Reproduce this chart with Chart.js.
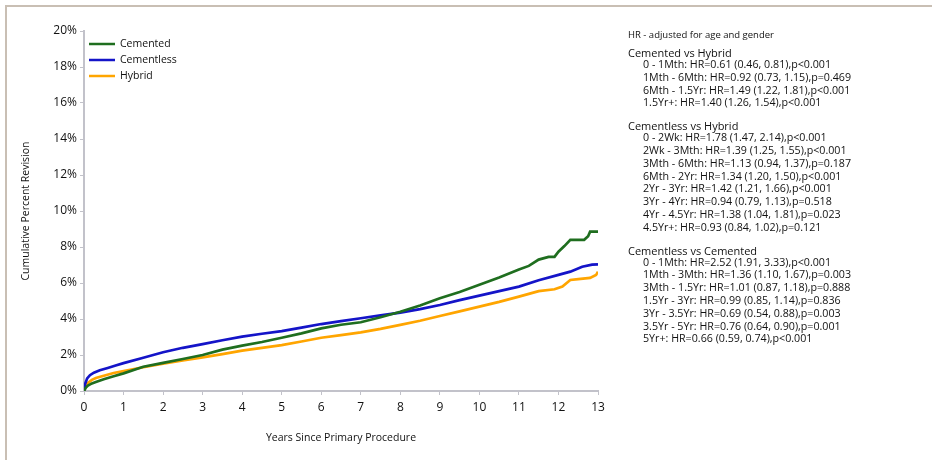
<!DOCTYPE html>
<html>
<head>
<meta charset="utf-8">
<script src="https://cdn.jsdelivr.net/npm/chart.js@4.4.1/dist/chart.umd.min.js"></script>
<style>
  html, body { margin: 0; padding: 0; background: #fff; }
  #wrap { position: relative; width: 932px; height: 460px; overflow: hidden; }
  #frame { position: absolute; left: 5px; top: 5px; right: -10px; bottom: -10px;
           border-top: 2px solid #c9bfb4; border-left: 2px solid #c9bfb4; }
  #chart { position: absolute; left: 0; top: 0; }
  #notes { position: absolute; left: 628px; top: 28px; font-family: "Open Sans", sans-serif;
           color: #111; }
  #notes .cap { font-size: 9.5px; line-height: 14px; }
  #notes .grp { font-size: 11px; line-height: 11px; margin-top: 11px; }
  #notes .grp.first { margin-top: 5px; }
  #notes .row { font-size: 10.7px; line-height: 12.8px; padding-left: 15px; white-space: nowrap; }
</style>
</head>
<body>
<div id="wrap">
  <div id="frame"></div>
  <canvas id="chart" width="932" height="460"></canvas>
  <div id="notes"></div>
</div>
<script>
// ============================
// DATA
// ============================
const seriesNames = ["Cemented", "Cementless", "Hybrid"];
const seriesColors = ["#1f6e1f", "#1414c8", "#ffa500"];

const cementedYears = [0, 0.05, 0.1, 0.2, 0.3, 0.5, 0.75, 1, 1.5, 2, 2.5, 3, 3.5, 4, 4.5, 5, 5.5, 6, 6.5, 7,
  7.5, 8, 8.5, 9, 9.5, 10, 10.5, 11, 11.25, 11.5, 11.75, 11.9, 12, 12.15, 12.3, 12.65, 12.75, 12.8, 13];
const cementedValues = [0, 0.2, 0.3, 0.42, 0.5, 0.65, 0.82, 0.98, 1.35, 1.56, 1.78, 2.0, 2.3, 2.52, 2.72, 2.96, 3.2, 3.48, 3.68, 3.82,
  4.1, 4.4, 4.75, 5.15, 5.5, 5.9, 6.3, 6.75, 6.95, 7.3, 7.45, 7.45, 7.74, 8.05, 8.4, 8.4, 8.6, 8.85, 8.85];

const cementlessYears = [0, 0.03, 0.08, 0.15, 0.25, 0.4, 0.6, 0.8, 1, 1.5, 2, 2.5, 3, 3.5, 4, 4.5, 5, 5.5, 6, 6.5,
  7, 7.5, 8, 8.5, 9, 9.5, 10, 10.5, 11, 11.5, 12, 12.3, 12.6, 12.85, 13];
const cementlessValues = [0, 0.4, 0.7, 0.88, 1.02, 1.15, 1.28, 1.42, 1.55, 1.85, 2.15, 2.4, 2.6, 2.82, 3.02, 3.18, 3.33, 3.52, 3.72, 3.88,
  4.04, 4.2, 4.35, 4.55, 4.78, 5.05, 5.3, 5.55, 5.8, 6.15, 6.45, 6.63, 6.9, 7.02, 7.04];

const hybridYears = [0, 0.05, 0.1, 0.2, 0.3, 0.5, 0.75, 1, 1.5, 2, 2.5, 3, 3.5, 4, 4.5, 5, 5.5, 6, 6.5, 7,
  7.5, 8, 8.5, 9, 9.5, 10, 10.5, 11, 11.5, 11.9, 12.1, 12.3, 12.5, 12.8, 12.95, 13];
const hybridValues = [0, 0.3, 0.45, 0.62, 0.72, 0.85, 1.0, 1.1, 1.32, 1.52, 1.7, 1.87, 2.05, 2.24, 2.4, 2.55, 2.75, 2.96, 3.1, 3.26,
  3.45, 3.67, 3.9, 4.17, 4.42, 4.69, 4.95, 5.24, 5.55, 5.65, 5.8, 6.17, 6.22, 6.28, 6.44, 6.63];

const xTicks = [0, 1, 2, 3, 4, 5, 6, 7, 8, 9, 10, 11, 12, 13];
const yTicks = [0, 2, 4, 6, 8, 10, 12, 14, 16, 18, 20];

const noteCaption = "HR - adjusted for age and gender";
const noteGroups = [
  { title: "Cemented vs Hybrid", rows: [
    "0 - 1Mth: HR=0.61 (0.46, 0.81),p<0.001",
    "1Mth - 6Mth: HR=0.92 (0.73, 1.15),p=0.469",
    "6Mth - 1.5Yr: HR=1.49 (1.22, 1.81),p<0.001",
    "1.5Yr+: HR=1.40 (1.26, 1.54),p<0.001"
  ]},
  { title: "Cementless vs Hybrid", rows: [
    "0 - 2Wk: HR=1.78 (1.47, 2.14),p<0.001",
    "2Wk - 3Mth: HR=1.39 (1.25, 1.55),p<0.001",
    "3Mth - 6Mth: HR=1.13 (0.94, 1.37),p=0.187",
    "6Mth - 2Yr: HR=1.34 (1.20, 1.50),p<0.001",
    "2Yr - 3Yr: HR=1.42 (1.21, 1.66),p<0.001",
    "3Yr - 4Yr: HR=0.94 (0.79, 1.13),p=0.518",
    "4Yr - 4.5Yr: HR=1.38 (1.04, 1.81),p=0.023",
    "4.5Yr+: HR=0.93 (0.84, 1.02),p=0.121"
  ]},
  { title: "Cementless vs Cemented", rows: [
    "0 - 1Mth: HR=2.52 (1.91, 3.33),p<0.001",
    "1Mth - 3Mth: HR=1.36 (1.10, 1.67),p=0.003",
    "3Mth - 1.5Yr: HR=1.01 (0.87, 1.18),p=0.888",
    "1.5Yr - 3Yr: HR=0.99 (0.85, 1.14),p=0.836",
    "3Yr - 3.5Yr: HR=0.69 (0.54, 0.88),p=0.003",
    "3.5Yr - 5Yr: HR=0.76 (0.64, 0.90),p=0.001",
    "5Yr+: HR=0.66 (0.59, 0.74),p<0.001"
  ]}
];

// ============================
// NOTES PANEL
// ============================
const notes = document.getElementById("notes");
const cap = document.createElement("div");
cap.className = "cap";
cap.textContent = noteCaption;
notes.appendChild(cap);
noteGroups.forEach((g, gi) => {
  const t = document.createElement("div");
  t.className = gi === 0 ? "grp first" : "grp";
  t.textContent = g.title;
  notes.appendChild(t);
  g.rows.forEach(r => {
    const d = document.createElement("div");
    d.className = "row";
    d.textContent = r;
    notes.appendChild(d);
  });
});

// ============================
// CHART
// ============================
const FONT = "Open Sans";
const AXIS = "#c2c2ca";

const toPoints = (xs, ys) => xs.map((x, i) => ({ x: x, y: ys[i] }));
const allSeries = [
  toPoints(cementedYears, cementedValues),
  toPoints(cementlessYears, cementlessValues),
  toPoints(hybridYears, hybridValues)
];

// legend drawn inside the plot, top left
const insideLegend = {
  id: "insideLegend",
  afterDraw(chart) {
    const ctx = chart.ctx;
    const left = chart.chartArea.left + 5;
    const top = chart.chartArea.top + 13;
    ctx.save();
    ctx.font = "10.5px " + FONT;
    ctx.textBaseline = "middle";
    chart.data.datasets.forEach((ds, i) => {
      const y = top + i * 16;
      ctx.strokeStyle = ds.borderColor;
      ctx.lineWidth = 2.5;
      ctx.beginPath();
      ctx.moveTo(left, y);
      ctx.lineTo(left + 26, y);
      ctx.stroke();
      ctx.fillStyle = "#111";
      ctx.fillText(ds.label, left + 31, y);
    });
    ctx.restore();
  }
};

new Chart(document.getElementById("chart").getContext("2d"), {
  type: "line",
  data: {
    datasets: seriesNames.map((name, i) => ({
      label: name,
      data: allSeries[i],
      borderColor: seriesColors[i],
      backgroundColor: seriesColors[i],
      borderWidth: 2.7,
      pointRadius: 0,
      tension: 0,
      fill: false
    }))
  },
  options: {
    responsive: false,
    animation: false,
    layout: { padding: { left: 0, top: 31, right: 334, bottom: 0 } },
    plugins: { legend: { display: false }, tooltip: { enabled: false } },
    scales: {
      x: {
        type: "linear",
        min: 0, max: 13,
        afterBuildTicks: s => { s.ticks = xTicks.map(v => ({ value: v })); },
        afterFit: s => { s.height = 69; },
        border: { display: true, color: AXIS, width: 2 },
        grid: { drawOnChartArea: false, drawTicks: true, tickLength: 4, color: AXIS },
        ticks: { color: "#111", padding: 5, font: { family: FONT, size: 12 } },
        title: { display: true, text: "Years Since Primary Procedure", color: "#111",
                 font: { family: FONT, size: 10.5 }, padding: { top: 0, bottom: 16 } }
      },
      y: {
        min: 0, max: 20,
        afterBuildTicks: s => { s.ticks = yTicks.map(v => ({ value: v })); },
        afterFit: s => { s.width = 84; },
        border: { display: true, color: AXIS, width: 2 },
        grid: { drawOnChartArea: false, drawTicks: true, tickLength: 4, color: AXIS },
        ticks: { color: "#111", padding: 3, font: { family: FONT, size: 12 },
                 callback: v => v + "%" },
        title: { display: true, text: "Cumulative Percent Revision", color: "#111",
                 font: { family: FONT, size: 10.5 }, padding: { top: 20, bottom: 0 } }
      }
    }
  },
  plugins: [insideLegend]
});
</script>
</body>
</html>
